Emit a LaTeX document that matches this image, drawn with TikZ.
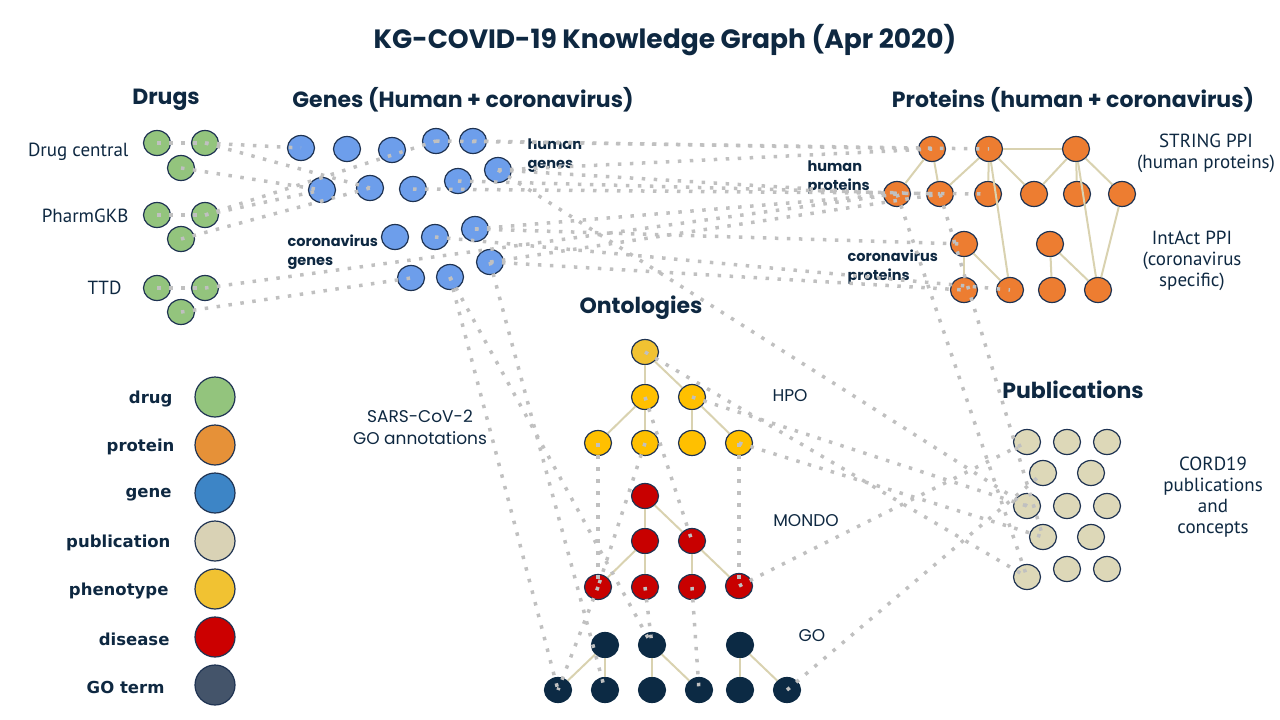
\documentclass[tikz,border=0pt]{standalone}
\usepackage{fontspec}
\setmainfont{PT Sans}
\newfontfamily\headfont{Poppins}
\newfontfamily\keyfont{DejaVu Sans}
\usepackage{xcolor}
\definecolor{navy}{HTML}{0E2841}
\definecolor{rim}{HTML}{1F3352}
\definecolor{druggreen}{HTML}{93C47D}
\definecolor{geneblue}{HTML}{6D9EEB}
\definecolor{protorange}{HTML}{ED7D31}
\definecolor{phenotop}{HTML}{F1C232}
\definecolor{phenoyellow}{HTML}{FFC000}
\definecolor{disred}{HTML}{C80000}
\definecolor{gonavy}{HTML}{0C2A44}
\definecolor{pubbeige}{HTML}{DDD8B8}
\definecolor{linkbeige}{HTML}{D9D2B0}
\definecolor{dotgray}{HTML}{C0C0C0}
\definecolor{keyorange}{HTML}{E69138}
\definecolor{keyblue}{HTML}{3D85C6}
\definecolor{keybeige}{HTML}{D9D2B5}
\definecolor{keyred}{HTML}{CC0000}
\definecolor{keyslate}{HTML}{44546A}
\usepackage{tikz}
\usetikzlibrary{shapes.geometric}

\begin{document}
\begin{tikzpicture}[x=1pt, y=-1pt,
		main/.style = {draw=rim, ellipse, line width=1.2pt, minimum width=27pt, minimum height=25pt, inner sep=0pt},
		key/.style = {draw=rim, circle, line width=1.2pt, minimum size=40pt, inner sep=0pt},
		link/.style = {draw=linkbeige, line width=2pt},
		dots/.style = {draw=dotgray, line width=3.5pt, dash pattern=on 3.5pt off 8.5pt},
		head/.style = {font=\headfont\bfseries\fontsize{22}{26}\selectfont, text=navy},
		tag/.style = {font=\headfont\bfseries\fontsize{14.5}{19}\selectfont, text=navy, align=left, anchor=west},
		note/.style = {font=\fontsize{19}{21}\selectfont, text=navy, align=center},
		onto/.style = {font=\headfont\fontsize{17}{22}\selectfont, text=navy, align=center},
		keylabel/.style = {font=\keyfont\bfseries\fontsize{16.5}{20}\selectfont, text=navy, anchor=east}]
		\useasboundingbox (0,0) rectangle (1280,720);

		% titles
		\node[head, font=\headfont\bfseries\fontsize{26.5}{30}\selectfont] (title) at (665,40) {KG-COVID-19 Knowledge Graph (Apr 2020)};
		\node[head] (drugs) at (166,100) {Drugs};
		\node[head] (genes) at (463,100) {Genes (Human + coronavirus)};
		\node[head] (proteins) at (1073,100) {Proteins (human + coronavirus)};
		\node[head] (ontologies) at (641,308) {Ontologies};
		\node[head] (publications) at (1073,390) {Publications};

		% drugs
		\node[main, fill=druggreen] (dc1) at (157,143) {};
		\node[main, fill=druggreen] (dc2) at (205,143) {};
		\node[main, fill=druggreen] (dc3) at (181,168) {};
		\node[main, fill=druggreen] (pg1) at (157,215) {};
		\node[main, fill=druggreen] (pg2) at (205,215) {};
		\node[main, fill=druggreen] (pg3) at (181,239) {};
		\node[main, fill=druggreen] (tt1) at (157,288) {};
		\node[main, fill=druggreen] (tt2) at (205,288) {};
		\node[main, fill=druggreen] (tt3) at (181,312) {};
		\node[note, anchor=east] (drugcentral) at (132,152) {Drug central};
		\node[note, anchor=east] (pharmgkb) at (132,216) {PharmGKB};
		\node[note, anchor=east] (ttd) at (125,288) {TTD};

		% genes
		\node[main, fill=geneblue] (hg1) at (301,148) {};
		\node[main, fill=geneblue] (hg2) at (347,149) {};
		\node[main, fill=geneblue] (hg3) at (392,150) {};
		\node[main, fill=geneblue] (hg4) at (436,141) {};
		\node[main, fill=geneblue] (hg5) at (473,141) {};
		\node[main, fill=geneblue] (hg6) at (322,190) {};
		\node[main, fill=geneblue] (hg7) at (370,188) {};
		\node[main, fill=geneblue] (hg8) at (413,189) {};
		\node[main, fill=geneblue] (hg9) at (458,181) {};
		\node[main, fill=geneblue] (hg10) at (498,170) {};
		\node[main, fill=geneblue] (cv1) at (395,237) {};
		\node[main, fill=geneblue] (cv2) at (435,237) {};
		\node[main, fill=geneblue] (cv3) at (475,229) {};
		\node[main, fill=geneblue] (cv4) at (490,262) {};
		\node[main, fill=geneblue] (cv5) at (411,278) {};
		\node[main, fill=geneblue] (cv6) at (450,277) {};
		\node[tag] (humangenes) at (524,156) {human\\genes};
		\node[tag] (covgenes) at (284,252) {coronavirus\\genes};

		% proteins
		\node[main, fill=protorange] (pt1) at (932,149) {};
		\node[main, fill=protorange] (pt2) at (989,149) {};
		\node[main, fill=protorange] (pt3) at (1076,149) {};
		\node[main, fill=protorange] (pm1) at (897,194) {};
		\node[main, fill=protorange] (pm2) at (940,194) {};
		\node[main, fill=protorange] (pm3) at (988,194) {};
		\node[main, fill=protorange] (pm4) at (1034,194) {};
		\node[main, fill=protorange] (pm5) at (1077,194) {};
		\node[main, fill=protorange] (pm6) at (1122,194) {};
		\node[main, fill=protorange] (ct1) at (964,244) {};
		\node[main, fill=protorange] (ct2) at (1050,244) {};
		\node[main, fill=protorange] (cb1) at (964,290) {};
		\node[main, fill=protorange] (cb2) at (1010,290) {};
		\node[main, fill=protorange] (cb3) at (1052,290) {};
		\node[main, fill=protorange] (cb4) at (1098,290) {};
		\node[tag] (humanprot) at (804,178) {human\\proteins};
		\node[tag] (covprot) at (844,267) {coronavirus\\proteins};
		\node[note] (string) at (1206,153) {STRING PPI\\(human proteins)};
		\node[note] (intact) at (1192,261) {IntAct PPI\\(coronavirus\\specific)};
		\path[link] (pt1) edge (pm1)
			(pt1) edge (pm2)
			(pt2) edge (pt3)
			(pt2) edge (pm2)
			(pt2) edge (pm3)
			(pt2) edge (pm4)
			(pt2) edge (cb2)
			(pt3) edge (pm4)
			(pt3) edge (pm5)
			(pt3) edge (pm6)
			(pt3) edge (cb4)
			(pm6) edge (cb4)
			(ct1) edge (cb1)
			(ct1) edge (cb2)
			(ct2) edge (cb3)
			(ct2) edge (cb4);

		% ontologies
		\node[main, fill=phenotop] (hp0) at (645,352) {};
		\node[main, fill=phenoyellow] (hp1) at (645,397) {};
		\node[main, fill=phenoyellow] (hp2) at (692,397) {};
		\node[main, fill=phenoyellow] (hp3) at (598,443) {};
		\node[main, fill=phenoyellow] (hp4) at (645,443) {};
		\node[main, fill=phenoyellow] (hp5) at (692,443) {};
		\node[main, fill=phenoyellow] (hp6) at (739,443) {};
		\node[main, fill=disred] (md0) at (645,496) {};
		\node[main, fill=disred] (md1) at (645,541) {};
		\node[main, fill=disred] (md2) at (692,541) {};
		\node[main, fill=disred] (md3) at (598,587) {};
		\node[main, fill=disred] (md4) at (645,587) {};
		\node[main, fill=disred] (md5) at (692,587) {};
		\node[main, fill=disred] (md6) at (739,586) {};
		\node[main, fill=gonavy, draw=gonavy] (gt1) at (605,645) {};
		\node[main, fill=gonavy, draw=gonavy] (gt2) at (652,645) {};
		\node[main, fill=gonavy, draw=gonavy] (gt3) at (740,645) {};
		\node[main, fill=gonavy, draw=gonavy] (gl1) at (558,690) {};
		\node[main, fill=gonavy, draw=gonavy] (gl2) at (605,690) {};
		\node[main, fill=gonavy, draw=gonavy] (gl3) at (652,690) {};
		\node[main, fill=gonavy, draw=gonavy] (gl4) at (699,690) {};
		\node[main, fill=gonavy, draw=gonavy] (gl5) at (740,690) {};
		\node[main, fill=gonavy, draw=gonavy] (gl6) at (787,690) {};
		\node[onto] (hpo) at (790,396) {HPO};
		\node[onto] (mondo) at (806,521) {MONDO};
		\node[onto] (go) at (812,636) {GO};
		\node[onto] (sars) at (420,427) {SARS-CoV-2\\GO annotations};
		\path[link] (hp0) edge (hp1)
			(hp0) edge (hp2)
			(hp1) edge (hp3)
			(hp1) edge (hp4)
			(hp2) edge (hp5)
			(hp2) edge (hp6);
		\path[link] (md0) edge (md1)
			(md0) edge (md2)
			(md1) edge (md3)
			(md1) edge (md4)
			(md2) edge (md5)
			(md2) edge (md6);
		\path[link] (gt1) edge (gl1)
			(gt1) edge (gl2)
			(gt2) edge (gl3)
			(gt2) edge (gl4)
			(gt3) edge (gl5)
			(gt3) edge (gl6);

		% publications
		\node[main, fill=pubbeige] (pb1) at (1027,442) {};
		\node[main, fill=pubbeige] (pb2) at (1067,442) {};
		\node[main, fill=pubbeige] (pb3) at (1107,442) {};
		\node[main, fill=pubbeige] (pb4) at (1043,473) {};
		\node[main, fill=pubbeige] (pb5) at (1091,473) {};
		\node[main, fill=pubbeige] (pb6) at (1027,506) {};
		\node[main, fill=pubbeige] (pb7) at (1067,506) {};
		\node[main, fill=pubbeige] (pb8) at (1107,506) {};
		\node[main, fill=pubbeige] (pb9) at (1043,537) {};
		\node[main, fill=pubbeige] (pb10) at (1091,537) {};
		\node[main, fill=pubbeige] (pb11) at (1027,577) {};
		\node[main, fill=pubbeige] (pb12) at (1067,569) {};
		\node[main, fill=pubbeige] (pb13) at (1107,569) {};
		\node[note] (cord) at (1213,497) {CORD19\\publications\\and\\concepts};

		% cross links (dotted, drawn over the nodes)
		\path[dots] (dc1.center) edge (dc2.center)
			(pg1.center) edge (pg2.center)
			(tt1.center) edge (tt2.center)
			(dc2.center) edge (hg1.center)
			(dc2.center) edge (hg7.center)
			(dc3.center) edge (hg6.center)
			(pg2.center) edge (hg4.center)
			(pg2.center) edge (hg6.center)
			(pg3.center) edge (hg7.center)
			(tt2.center) edge (pm1.center)
			(tt3.center) edge (cv5.center);
		\path[dots] (hg5.center) edge (pt1.center)
			(hg4.center) edge (pt2.center)
			(hg10.center) edge (pt1.center)
			(hg10.center) edge (pm1.center)
			(hg9.center) edge (pm2.center)
			(hg8.center) edge (pm3.center)
			(cv3.center) edge (pm1.center)
			(cv4.center) edge (pm2.center)
			(cv3.center) edge (ct1.center)
			(cv4.center) edge (cb1.center)
			(cv2.center) edge (cb2.center);
		\path[dots] (hg10.center) edge (pb6.center)
			(pm1.center) edge (pb11.center)
			(pm2.center) edge (pb9.center)
			(hp0.center) edge (pb11.center)
			(hp2.center) edge (pb6.center)
			(hp6.center) edge (pb9.center)
			(md6.center) edge (pb1.center)
			(gl6.center) edge (pb4.center);
		\path[dots] (hp3.center) edge (md3.center)
			(hp4.center) edge (md3.center)
			(hp1.center) edge (md2.center)
			(hp6.center) edge (md6.center)
			(md3.center) edge (gl1.center)
			(md4.center) edge (gt2.center)
			(md5.center) edge (gl4.center)
			(cv6.center) edge (gl1.center)
			(cv4.center) edge (gl2.center)
			(cv6.center) edge (gt2.center);

		% legend
		\node[key, fill=druggreen] (kdrug) at (215,397) {};
		\node[key, fill=keyorange] (kprot) at (215,445) {};
		\node[key, fill=keyblue] (kgene) at (215,493) {};
		\node[key, fill=keybeige] (kpub) at (215,541) {};
		\node[key, fill=phenotop] (kpheno) at (215,589) {};
		\node[key, fill=keyred] (kdis) at (215,637) {};
		\node[key, fill=keyslate] (kgo) at (215,685) {};
		\node[keylabel] (ldrug) at (176,399) {drug};
		\node[keylabel] (lprot) at (178,447) {protein};
		\node[keylabel] (lgene) at (175,495) {gene};
		\node[keylabel] (lpub) at (174,543) {publication};
		\node[keylabel] (lpheno) at (172,591) {phenotype};
		\node[keylabel] (ldis) at (173,639) {disease};
		\node[keylabel] (lgo) at (168,687) {GO term};
	\end{tikzpicture}
\end{document}
